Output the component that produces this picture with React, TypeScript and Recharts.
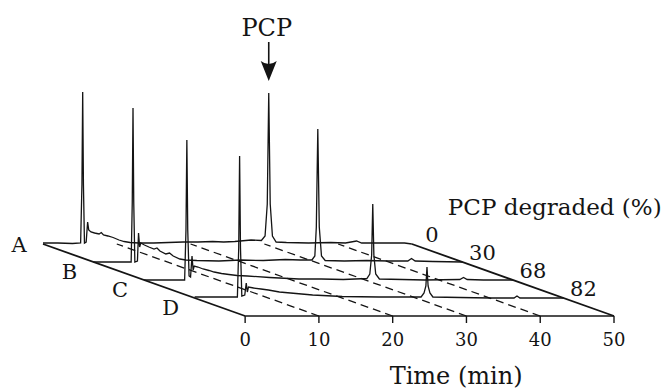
import React from "react";
import { ComposedChart, Line, XAxis, YAxis, ReferenceLine, ReferenceDot } from "recharts";

// chromatogram traces, [time (min), detector signal]
const TRACE_A = [
  [0, 1], [2, 1], [4, 0.5], [5.1, 1], [5.28, 60], [5.38, 152], [5.48, 60], [5.62, 1], [5.85, 2],
  [6.05, 22], [6.2, 14], [6.5, 12], [7.0, 11], [7.6, 10], [7.9, 11.5], [8.2, 9], [8.8, 8], [9.5, 6.5],
  [10.3, 4], [11.0, 2.5], [11.8, 1.5], [13, 1], [15, 1], [17, 1.5], [19, 2], [21, 2], [23, 2.5],
  [24.5, 2], [26, 2.5], [28.2, 4], [29.6, 3.5], [30.1, 8], [30.4, 40], [30.6, 151], [30.8, 40],
  [31.1, 8], [31.6, 2], [33, 1.5], [36, 1], [39, 1.5], [41, 1], [42.5, 3], [43.2, 1], [46, 1], [49, 1], [50, 0],
];
const TRACE_B = [
  [0, 0], [3, 0], [5.1, 0], [5.25, 60], [5.35, 154], [5.45, 60], [5.6, 0], [5.95, 1], [6.1, 29],
  [6.25, 15], [6.4, 19], [6.9, 17], [7.5, 15], [8.2, 13], [8.6, 14], [9.0, 11], [9.8, 8], [10.3, 9],
  [10.8, 6], [11.7, 3], [12.5, 2], [14, 1.5], [17, 1], [20, 2], [23, 1.5], [26, 2.5], [28, 2],
  [29.6, 2], [30.0, 6], [30.2, 35], [30.4, 133], [30.6, 35], [30.9, 6], [31.4, 1.5], [34, 1],
  [37, 1.5], [40, 1], [42.6, 1], [43.1, 3.5], [43.6, 1], [46, 0.5], [50, 0],
];
const TRACE_C = [
  [0, 0], [3, 0], [5.5, 0], [5.68, 50], [5.8, 140], [5.92, 50], [6.1, 4], [6.3, 3], [6.5, 24],
  [6.65, 10], [6.8, 14], [7.3, 13], [8, 11], [8.8, 9.5], [9.5, 8], [10.5, 6.5], [11.5, 5.5],
  [12.6, 4.5], [14, 4], [17, 2.5], [21, 1], [24, 1], [27, 0.5], [30.2, 1.5], [30.6, 6], [30.85, 25],
  [31.0, 76], [31.15, 25], [31.4, 6], [31.9, 1], [35, 0.5], [38, 0], [42.8, 0.5], [43.3, 2.5],
  [43.8, 0.5], [46, 0], [50, 0],
];
const TRACE_D = [
  [0, 1], [3, 1], [5.8, 1], [5.98, 50], [6.1, 142], [6.22, 50], [6.4, 2], [6.8, 3], [7.0, 15],
  [7.15, 6], [7.3, 11], [8, 10], [9, 9], [10, 8], [11.5, 6], [13, 5], [16, 3], [20, 1.5], [25, 1],
  [30.7, 1], [31.1, 5], [31.35, 12], [31.5, 31], [31.65, 12], [31.9, 5], [32.3, 1], [36, 0.5],
  [40, 0], [43.3, 0], [43.7, 2], [44.1, 0], [50, 0],
];

const TRACES = [TRACE_A, TRACE_B, TRACE_C, TRACE_D];
const ROW_LABELS = ["A", "B", "C", "D"];
const DEGRADED = [0, 30, 68, 82];
const TIME_TICKS = [0, 10, 20, 30, 40, 50];
const GRID_TIMES = [10, 20, 30, 40];
const PCP_TIME_A = 30.6;
const PCP_HEIGHT_A = 151;

// oblique projection: each row sits one step back (left and up) from the next
const DEPTH = 4;
const DX = 6.85;
const DY = 18;

const INK = "#141414";
const FONT = "'DejaVu Serif', 'Liberation Serif', serif";

const project = (row: number, t: number, h: number) => {
  const k = DEPTH - row;
  return { x: t - k * DX, y: h + k * DY };
};

const traceData = TRACES.map((pts, row) => pts.map(([t, h]) => project(row, t, h)));

const centre = (vb: any) => ({
  x: (vb?.x ?? 0) + (vb?.width ?? 0) / 2,
  y: (vb?.y ?? 0) + (vb?.height ?? 0) / 2,
});

const textLabel = (text: string, dx: number, dy: number, size: number, anchor = "middle") =>
  (props: any) => {
    const c = centre(props.viewBox);
    return (
      <text x={c.x + dx} y={c.y + dy} textAnchor={anchor} fontFamily={FONT} fontSize={size} fill={INK}>
        {text}
      </text>
    );
  };

const pcpArrow = (props: any) => {
  const c = centre(props.viewBox);
  const tip = c.y - 12;
  return (
    <g>
      <text x={c.x - 2} y={c.y - 57} textAnchor="middle" fontFamily={FONT} fontSize={24} fill={INK}>PCP</text>
      <line x1={c.x} y1={c.y - 51} x2={c.x} y2={tip - 10} stroke={INK} strokeWidth={1.6} />
      <path d={`M${c.x},${tip} L${c.x - 8},${tip - 20} Q${c.x},${tip - 14} ${c.x + 8},${tip - 20} Z`} fill={INK} />
    </g>
  );
};

export default function App() {
  const back = DEPTH * DX;
  const top = DEPTH * DY;
  return (
    <div style={{ position: "absolute", left: 0, top: 0, width: 664, height: 391, background: "#fff" }}>
      <ComposedChart width={664} height={391} margin={{ top: 20, right: 50, left: 43, bottom: 0 }}>
        <XAxis
          type="number" dataKey="x" domain={[-back, 50]} ticks={TIME_TICKS} interval={0} allowDataOverflow
          axisLine={false} tickLine={{ stroke: INK, strokeWidth: 1.4 }} tickSize={7} tickMargin={10} height={75}
          tick={{ fontFamily: FONT, fontSize: 18, fill: INK }}
        />
        <YAxis type="number" domain={[0, 296]} hide allowDataOverflow />

        {/* floor of the stack */}
        <ReferenceLine segment={[{ x: 0, y: 0 }, { x: 50, y: 0 }]} stroke={INK} strokeWidth={1.5} />
        <ReferenceLine segment={[{ x: 0, y: 0 }, { x: -back, y: top }]} stroke={INK} strokeWidth={1.8} />
        <ReferenceLine segment={[{ x: 50, y: 0 }, { x: 50 - back, y: top }]} stroke={INK} strokeWidth={1.8} />
        {GRID_TIMES.map((t) => (
          <ReferenceLine key={t} segment={[{ x: t, y: 0 }, { x: t - back, y: top }]}
            stroke={INK} strokeWidth={1.3} strokeDasharray="8 5" />
        ))}

        {traceData.map((d, row) => (
          <Line key={row} data={d} dataKey="y" type="linear" dot={false} activeDot={false}
            stroke={INK} strokeWidth={1.3} isAnimationActive={false} />
        ))}

        {ROW_LABELS.map((name, row) => {
          const p = project(row, 0, 0);
          return <ReferenceDot key={name} x={p.x} y={p.y} r={0} stroke="none" fill="none"
            label={textLabel(name, -24, row === 0 ? 8 : 17, 21)} />;
        })}
        {DEGRADED.map((v, row) => {
          const p = project(row, 50, 0);
          return <ReferenceDot key={v} x={p.x} y={p.y} r={0} stroke="none" fill="none"
            label={textLabel(String(v), 20, -2, 21)} />;
        })}
        <ReferenceDot x={50 - back} y={top} r={0} stroke="none" fill="none"
          label={textLabel("PCP degraded (%)", 36, -29, 23, "start")} />
        <ReferenceDot x={28.6} y={0} r={0} stroke="none" fill="none"
          label={textLabel("Time (min)", 0, 68, 24)} />
        <ReferenceDot x={PCP_TIME_A - back} y={PCP_HEIGHT_A + top} r={0} stroke="none" fill="none"
          label={pcpArrow} />
      </ComposedChart>
    </div>
  );
}
